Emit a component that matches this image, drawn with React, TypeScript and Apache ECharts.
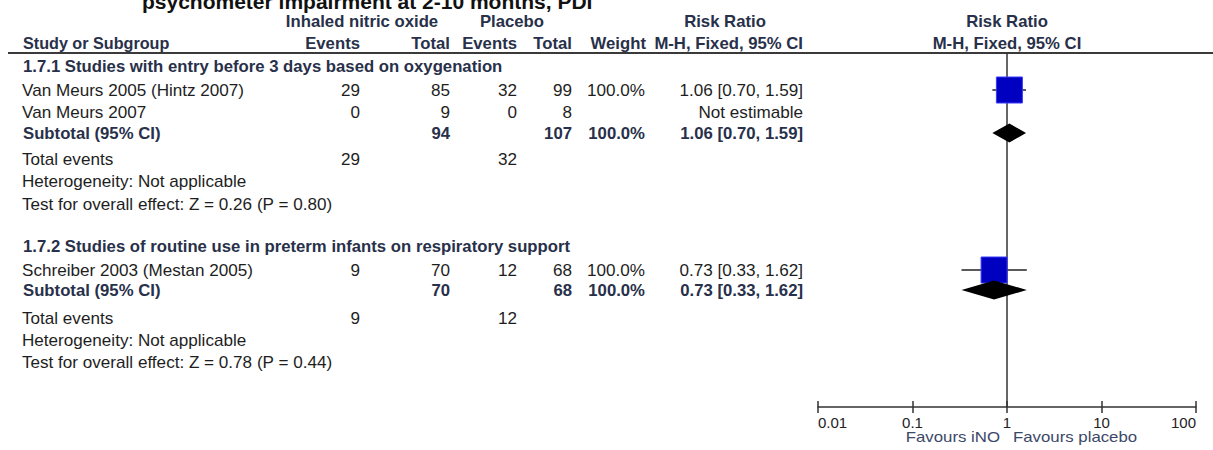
import React, { useEffect, useRef } from "react";
import * as echarts from "echarts";

// ---------- data ----------
const titleText = "psychometer impairment at 2-10 months, PDI";
const expLabel = "Inhaled nitric oxide";
const ctrlLabel = "Placebo";
const groupNames = [
  "1.7.1 Studies with entry before 3 days based on oxygenation",
  "1.7.2 Studies of routine use in preterm infants on respiratory support",
];
const studyNames = ["Van Meurs 2005 (Hintz 2007)", "Van Meurs 2007", "Schreiber 2003 (Mestan 2005)"];
const studyGroup = [0, 0, 1];
const expEvents = [29, 0, 9];
const expTotal = [85, 9, 70];
const ctrlEvents = [32, 0, 12];
const ctrlTotal = [99, 8, 68];
const studyWeight: (number | null)[] = [100.0, null, 100.0];
const studyRR: (number | null)[] = [1.06, null, 0.73];
const studyLow: (number | null)[] = [0.7, null, 0.33];
const studyHigh: (number | null)[] = [1.59, null, 1.62];

const subExpTotal = [94, 70];
const subCtrlTotal = [107, 68];
const subWeight = [100.0, 100.0];
const subRR = [1.06, 0.73];
const subLow = [0.7, 0.33];
const subHigh = [1.59, 1.62];
const totExpEvents = [29, 9];
const totCtrlEvents = [32, 12];
const heterogeneity = ["Not applicable", "Not applicable"];
const zValues = [0.26, 0.78];
const pValues = [0.8, 0.44];

const tickValues = [0.01, 0.1, 1, 10, 100];
const tickLabels = ["0.01", "0.1", "1", "10", "100"];
const favoursLeft = "Favours iNO";
const favoursRight = "Favours placebo";
const subgroupTest = "Test for subgroup differences: Chi\u00b2 = 0.67, df = 1 (P = 0.41), I\u00b2 = 0%";

// ---------- layout (pixel rows / columns) ----------
const ROW_GROUP = [66, 246];
const ROW_STUDY = [91, 113, 271];
const ROW_SUB = [133, 290];
const ROW_TOT = [160, 319];
const ROW_HET = [182, 341];
const ROW_TEST = [205, 363];
const COL_NAME = 22;
const COL_EXP_E = 360;
const COL_EXP_T = 450;
const COL_CTRL_E = 517;
const COL_CTRL_T = 572;
const COL_W = 645;
const COL_RR = 803;
const PLOT_LEFT = 818;
const PLOT_WIDTH = 378;
const PLOT_TOP = 53;
const AXIS_Y = 407;

const FONT = '"Liberation Sans", Arial, sans-serif';
const NORMAL_COLOR = "#1e1e1e";
const BOLD_COLOR = "#28304a";

function txt(
  s: string,
  x: number,
  y: number,
  opts: { bold?: boolean; align?: string; size?: number; color?: string; sx?: number } = {}
) {
  const bold = !!opts.bold;
  const size = opts.size ?? 16;
  return {
    type: "text",
    x,
    y,
    scaleX: opts.sx ?? (bold ? 1.045 : 1.07),
    silent: true,
    style: {
      text: s,
      font: `${bold ? "bold " : ""}${size}px ${FONT}`,
      fill: opts.color ?? (bold ? BOLD_COLOR : NORMAL_COLOR),
      align: opts.align ?? "left",
      verticalAlign: "middle",
    },
  };
}

const fmtRR = (r: number | null, lo: number | null, hi: number | null) =>
  r == null || lo == null || hi == null ? "Not estimable" : `${r.toFixed(2)} [${lo.toFixed(2)}, ${hi.toFixed(2)}]`;
const fmtW = (w: number | null) => (w == null ? "" : `${w.toFixed(1)}%`);

function buildGraphics() {
  const g: any[] = [];
  g.push(txt(titleText, 142, 1, { bold: true, size: 21, color: "#111", sx: 1 }));
  // headers
  g.push(txt(expLabel, 362, 21, { bold: true, align: "center" }));
  g.push(txt(ctrlLabel, 512, 21, { bold: true, align: "center" }));
  g.push(txt("Risk Ratio", 725, 21, { bold: true, align: "center" }));
  g.push(txt("Risk Ratio", 1007, 21, { bold: true, align: "center" }));
  g.push(txt("Study or Subgroup", 23, 43, { bold: true, sx: 1.01 }));
  g.push(txt("Events", COL_EXP_E, 43, { bold: true, align: "right" }));
  g.push(txt("Total", COL_EXP_T, 43, { bold: true, align: "right" }));
  g.push(txt("Events", COL_CTRL_E, 43, { bold: true, align: "right" }));
  g.push(txt("Total", COL_CTRL_T, 43, { bold: true, align: "right" }));
  g.push(txt("Weight", COL_W + 1, 43, { bold: true, align: "right" }));
  g.push(txt("M-H, Fixed, 95% CI", COL_RR, 43, { bold: true, align: "right" }));
  g.push(txt("M-H, Fixed, 95% CI", 1007, 43, { bold: true, align: "center" }));
  g.push({
    type: "line",
    silent: true,
    shape: { x1: 8, y1: PLOT_TOP, x2: 1213, y2: PLOT_TOP },
    style: { stroke: "#3a3a3a", lineWidth: 2 },
  });

  groupNames.forEach((name, gi) => {
    g.push(txt(name, 23, ROW_GROUP[gi], { bold: true }));
    studyNames.forEach((s, si) => {
      if (studyGroup[si] !== gi) return;
      const y = ROW_STUDY[si];
      g.push(txt(s, COL_NAME, y));
      g.push(txt(String(expEvents[si]), COL_EXP_E, y, { align: "right" }));
      g.push(txt(String(expTotal[si]), COL_EXP_T, y, { align: "right" }));
      g.push(txt(String(ctrlEvents[si]), COL_CTRL_E, y, { align: "right" }));
      g.push(txt(String(ctrlTotal[si]), COL_CTRL_T, y, { align: "right" }));
      g.push(txt(fmtW(studyWeight[si]), COL_W, y, { align: "right" }));
      g.push(txt(fmtRR(studyRR[si], studyLow[si], studyHigh[si]), COL_RR, y, { align: "right" }));
    });
    const ys = ROW_SUB[gi];
    g.push(txt("Subtotal (95% CI)", 23, ys, { bold: true }));
    g.push(txt(String(subExpTotal[gi]), COL_EXP_T, ys, { bold: true, align: "right" }));
    g.push(txt(String(subCtrlTotal[gi]), COL_CTRL_T, ys, { bold: true, align: "right" }));
    g.push(txt(fmtW(subWeight[gi]), COL_W, ys, { bold: true, align: "right" }));
    g.push(txt(fmtRR(subRR[gi], subLow[gi], subHigh[gi]), COL_RR, ys, { bold: true, align: "right" }));
    g.push(txt("Total events", COL_NAME, ROW_TOT[gi]));
    g.push(txt(String(totExpEvents[gi]), COL_EXP_E, ROW_TOT[gi], { align: "right" }));
    g.push(txt(String(totCtrlEvents[gi]), COL_CTRL_E, ROW_TOT[gi], { align: "right" }));
    g.push(txt(`Heterogeneity: ${heterogeneity[gi]}`, COL_NAME, ROW_HET[gi]));
    g.push(
      txt(`Test for overall effect: Z = ${zValues[gi].toFixed(2)} (P = ${pValues[gi].toFixed(2)})`, COL_NAME, ROW_TEST[gi])
    );
  });

  g.push(txt(favoursLeft, 1000, 437, { align: "right", size: 14, sx: 1.2, color: "#3c4868" }));
  g.push(txt(favoursRight, 1013, 437, { size: 14, sx: 1.2, color: "#3c4868" }));
  g.push(txt(subgroupTest, 20, 458));
  return g;
}

export default function App() {
  const ref = useRef<HTMLDivElement>(null);
  useEffect(() => {
    document.body.style.margin = "0";
    if (!ref.current) return;
    const chart = echarts.init(ref.current, undefined, { renderer: "svg" });

    const ciData: any[] = [];
    const sqData: any[] = [];
    studyRR.forEach((r, i) => {
      if (r == null) return;
      ciData.push([studyLow[i], studyHigh[i], ROW_STUDY[i] - 1]);
      sqData.push({ value: [r, ROW_STUDY[i] - 1], w: studyWeight[i] });
    });
    const diaData = subRR.map((r, i) => [r, subLow[i], subHigh[i], ROW_SUB[i]]);

    const logAxisBase = {
      type: "log",
      logBase: 10,
      min: tickValues[0],
      max: tickValues[tickValues.length - 1],
      position: "bottom",
      splitLine: { show: false },
    };

    const option: any = {
      animation: false,
      grid: [
        { left: PLOT_LEFT, width: PLOT_WIDTH, top: 0, height: AXIS_Y },
        { left: PLOT_LEFT, width: PLOT_WIDTH, top: 0, height: AXIS_Y },
      ],
      xAxis: [
        {
          ...logAxisBase,
          gridIndex: 0,
          axisLine: { show: true, onZero: false, lineStyle: { color: "#333", width: 1.5 } },
          axisTick: { show: true, inside: false, length: 6, lineStyle: { color: "#333", width: 1.5 } },
          axisLabel: {
            show: true,
            margin: 8,
            color: "#222",
            fontSize: 15,
            fontFamily: FONT,
            alignMinLabel: "left",
            alignMaxLabel: "right",
            formatter: (_v: number, idx: number) => tickLabels[idx] ?? "",
          },
        },
        {
          ...logAxisBase,
          gridIndex: 1,
          axisLine: { show: false, onZero: false },
          axisTick: { show: true, inside: true, length: 6, lineStyle: { color: "#333", width: 1.5 } },
          axisLabel: { show: false },
        },
      ],
      yAxis: [
        { type: "value", gridIndex: 0, min: 0, max: AXIS_Y, inverse: true, show: false },
        { type: "value", gridIndex: 1, min: 0, max: AXIS_Y, inverse: true, show: false },
      ],
      graphic: buildGraphics(),
      series: [
        {
          type: "line",
          silent: true,
          symbol: "none",
          data: [
            [1, PLOT_TOP],
            [1, AXIS_Y],
          ],
          lineStyle: { color: "#333", width: 1.5 },
          z: 1,
        },
        {
          type: "custom",
          silent: true,
          encode: { x: [0, 1], y: 2 },
          data: ciData,
          renderItem: (_p: any, api: any) => {
            const a = api.coord([api.value(0), api.value(2)]);
            const b = api.coord([api.value(1), api.value(2)]);
            return {
              type: "line",
              shape: { x1: a[0], y1: a[1], x2: b[0], y2: b[1] },
              style: { stroke: "#222", lineWidth: 1.5 },
            };
          },
          z: 2,
        },
        {
          type: "scatter",
          silent: true,
          symbol: "rect",
          symbolSize: (_v: any, p: any) => 26 * Math.sqrt((p.data.w ?? 100) / 100),
          data: sqData,
          itemStyle: { color: "#0000c0", borderColor: "#3a3aff", borderWidth: 1, opacity: 1 },
          z: 3,
        },
        {
          type: "custom",
          silent: true,
          encode: { x: [0, 1, 2], y: 3 },
          data: diaData,
          renderItem: (_p: any, api: any) => {
            const y = api.value(3);
            const c = api.coord([api.value(0), y]);
            const l = api.coord([api.value(1), y]);
            const r = api.coord([api.value(2), y]);
            const h = 9.5;
            return {
              type: "polygon",
              shape: {
                points: [
                  [l[0], c[1]],
                  [c[0], c[1] - h],
                  [r[0], c[1]],
                  [c[0], c[1] + h],
                ],
              },
              style: { fill: "#000" },
            };
          },
          z: 4,
        },
      ],
    };
    chart.setOption(option);
    return () => chart.dispose();
  }, []);
  return <div ref={ref} style={{ width: 1213, height: 450 }} />;
}
